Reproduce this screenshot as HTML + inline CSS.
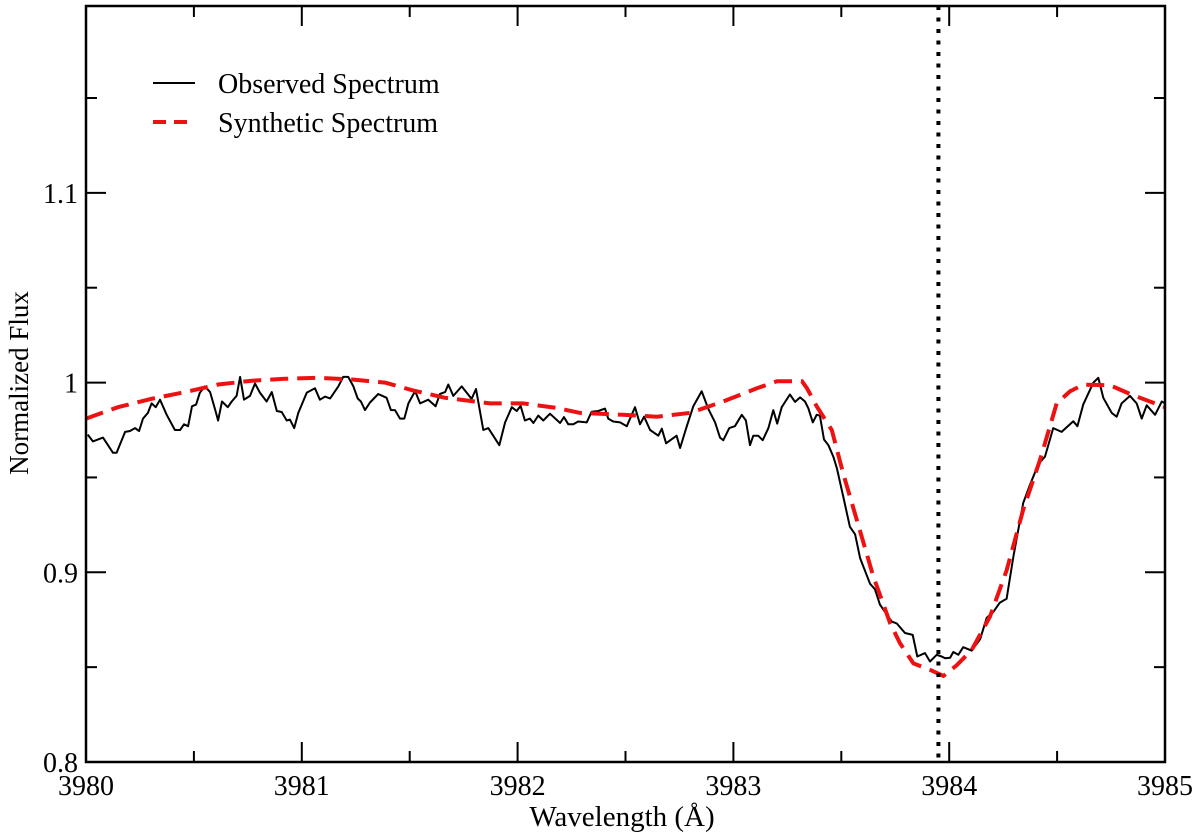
<!DOCTYPE html>
<html><head><meta charset="utf-8"><style>
html,body{margin:0;padding:0;background:#fff;}
svg{display:block;font-family:"Liberation Serif",serif;}
</style></head><body>
<svg id="chart" width="1200" height="838" viewBox="0 0 1200 838" xmlns="http://www.w3.org/2000/svg">
<rect x="0" y="0" width="1200" height="838" fill="#fff"/>
<g id="marks"></g>
<g id="axes"></g>
<g>
<line x1="153" y1="83" x2="195" y2="83" stroke="#000" stroke-width="2"/>
<text x="218" y="93" font-size="28">Observed Spectrum</text>
<line x1="153" y1="122" x2="195" y2="122" stroke="#ee1111" stroke-width="4" stroke-dasharray="13,8"/>
<text x="218" y="132" font-size="28">Synthetic Spectrum</text>
</g>
<text x="622" y="826" font-size="29" text-anchor="middle">Wavelength (Å)</text>
<text transform="translate(28,383) rotate(-90)" font-size="27" text-anchor="middle">Normalized Flux</text>
</svg>
<script>
const lambdaBase = 3980;
const obsOffset = [0.008,0.032,0.079,0.125,0.142,0.181,0.204,0.227,0.246,0.264,0.287,0.304,0.323,0.343,0.374,0.412,0.436,0.454,0.473,0.491,0.510,0.528,0.551,0.575,0.598,0.612,0.630,0.657,0.675,0.698,0.714,0.732,0.760,0.783,0.806,0.837,0.861,0.884,0.907,0.930,0.945,0.965,0.984,1.023,1.061,1.084,1.108,1.131,1.169,1.192,1.215,1.239,1.259,1.274,1.293,1.316,1.354,1.393,1.413,1.432,1.455,1.475,1.494,1.525,1.548,1.586,1.620,1.640,1.664,1.679,1.702,1.741,1.787,1.807,1.841,1.864,1.915,1.942,1.973,1.996,2.014,2.034,2.057,2.073,2.096,2.119,2.150,2.197,2.215,2.235,2.258,2.281,2.320,2.343,2.374,2.405,2.420,2.443,2.475,2.506,2.544,2.567,2.586,2.614,2.652,2.668,2.688,2.706,2.737,2.753,2.784,2.814,2.853,2.884,2.915,2.938,2.953,2.981,3.007,3.039,3.058,3.077,3.092,3.115,3.136,3.162,3.185,3.203,3.224,3.262,3.286,3.309,3.332,3.347,3.368,3.386,3.401,3.420,3.440,3.463,3.479,3.509,3.540,3.564,3.587,3.633,3.656,3.679,3.703,3.734,3.757,3.795,3.831,3.852,3.888,3.911,3.942,3.965,3.981,4.004,4.019,4.042,4.065,4.104,4.143,4.174,4.204,4.235,4.266,4.297,4.343,4.374,4.413,4.444,4.482,4.521,4.575,4.594,4.621,4.668,4.691,4.714,4.753,4.776,4.799,4.838,4.869,4.892,4.915,4.954,4.985,5.000];
const obsFlux = [0.9726,0.969,0.971,0.963,0.963,0.974,0.9745,0.976,0.9745,0.981,0.984,0.989,0.987,0.991,0.983,0.975,0.975,0.978,0.977,0.9875,0.9884,0.9947,0.998,0.995,0.986,0.980,0.990,0.987,0.990,0.993,1.003,0.991,0.993,0.9995,0.9947,0.990,0.995,0.985,0.9845,0.980,0.9805,0.976,0.984,0.9947,0.997,0.991,0.9926,0.9916,0.998,1.003,1.003,0.998,0.9916,0.990,0.9855,0.9895,0.994,0.992,0.9855,0.9855,0.981,0.981,0.989,0.9955,0.989,0.991,0.9875,0.994,0.995,0.999,0.993,0.998,0.9914,0.9966,0.975,0.976,0.967,0.979,0.987,0.985,0.9877,0.980,0.981,0.9787,0.9826,0.980,0.9836,0.9787,0.9818,0.978,0.978,0.9795,0.979,0.9846,0.985,0.9863,0.981,0.9795,0.979,0.977,0.987,0.978,0.982,0.975,0.972,0.9757,0.968,0.9695,0.972,0.9655,0.977,0.9875,0.9954,0.986,0.979,0.971,0.9696,0.976,0.977,0.983,0.980,0.967,0.972,0.972,0.9696,0.976,0.9855,0.9784,0.987,0.9937,0.9898,0.9922,0.990,0.9865,0.979,0.983,0.9826,0.970,0.967,0.961,0.955,0.940,0.924,0.920,0.9075,0.894,0.891,0.883,0.879,0.874,0.873,0.868,0.867,0.8556,0.8574,0.853,0.8565,0.8556,0.8547,0.855,0.858,0.8565,0.8605,0.8587,0.8647,0.876,0.879,0.884,0.886,0.908,0.9365,0.946,0.957,0.961,0.976,0.974,0.9796,0.977,0.9884,1.0,1.0025,0.992,0.984,0.982,0.989,0.993,0.989,0.981,0.988,0.983,0.990,0.989];
const synOffset = [0.0,0.148,0.306,0.459,0.612,0.769,0.922,1.075,1.233,1.386,1.511,1.664,1.872,2.025,2.183,2.289,2.488,2.646,2.799,2.952,3.109,3.202,3.318,3.341,3.386,3.456,3.509,3.571,3.648,3.726,3.772,3.834,3.911,3.973,4.035,4.104,4.189,4.266,4.343,4.421,4.498,4.560,4.621,4.745,4.838,4.930,5.0];
const synFlux = [0.981,0.987,0.9915,0.995,0.999,1.001,1.002,1.0025,1.0016,1.0,0.996,0.992,0.989,0.989,0.9866,0.984,0.983,0.982,0.984,0.990,0.997,1.0007,1.0007,0.997,0.9875,0.975,0.952,0.928,0.898,0.8732,0.8626,0.852,0.8486,0.8454,0.851,0.859,0.8767,0.901,0.933,0.9594,0.989,0.9954,0.9989,0.9986,0.994,0.990,0.987];
const lineCenter = 3983.95;
const xTicksMajor = [3980,3981,3982,3983,3984,3985];
const xTicksMinor = [3980.5,3981.5,3982.5,3983.5,3984.5];
const yTicksMajor = [0.8,0.9,1.0,1.1];
const yTickLabels = ["0.8","0.9","1","1.1"];
const yTicksMinor = [0.85,0.95,1.05,1.15];

const X0=86,X1=1165,Y0=762,Y1=6;
const xMin=3980,xMax=3985,yMin=0.8,yMax=1.1985;
function sx(v){return X0+(v-xMin)/(xMax-xMin)*(X1-X0);}
function sy(v){return Y0-(v-yMin)/(yMax-yMin)*(Y0-Y1);}
const NS="http://www.w3.org/2000/svg";
const marks=document.getElementById('marks');
const axes=document.getElementById('axes');
function mk(tag,attrs,parent){const e=document.createElementNS(NS,tag);for(const k in attrs)e.setAttribute(k,attrs[k]);parent.appendChild(e);return e;}

let d='';
for(let i=0;i<obsOffset.length;i++){d+=(i?'L':'M')+sx(lambdaBase+obsOffset[i]).toFixed(1)+','+sy(obsFlux[i]).toFixed(1);}
const obs=mk('path',{d:d,fill:'none',stroke:'#000','stroke-width':2,'stroke-linejoin':'round'},marks);



d='';
for(let i=0;i<synOffset.length;i++){d+=(i?'L':'M')+sx(lambdaBase+synOffset[i]).toFixed(1)+','+sy(synFlux[i]).toFixed(1);}
const syn=mk('path',{d:d,fill:'none',stroke:'#ee1111','stroke-width':4,'stroke-dasharray':'18,9'},marks);



const vl=mk('line',{x1:sx(lineCenter),x2:sx(lineCenter),y1:Y1,y2:Y0,stroke:'#000','stroke-width':4,'stroke-dasharray':'4,7.5'},marks);



const frame=mk('rect',{x:X0,y:Y1,width:X1-X0,height:Y0-Y1,fill:'none',stroke:'#000','stroke-width':2.5},axes);



xTicksMajor.forEach(v=>{
  const x=sx(v);
  const t1=mk('line',{x1:x,x2:x,y1:Y0,y2:Y0-20,stroke:'#000','stroke-width':2},axes);
  
  
  const t2=mk('line',{x1:x,x2:x,y1:Y1,y2:Y1+20,stroke:'#000','stroke-width':2},axes);
  
  
  const lb=mk('text',{x:x,y:Y0+33,'font-size':28,'text-anchor':'middle'},axes);
  lb.textContent=String(v);
  
  
});
xTicksMinor.forEach(v=>{
  const x=sx(v);
  const t1=mk('line',{x1:x,x2:x,y1:Y0,y2:Y0-11,stroke:'#000','stroke-width':2},axes);
  
  
  const t2=mk('line',{x1:x,x2:x,y1:Y1,y2:Y1+11,stroke:'#000','stroke-width':2},axes);
  
  
});
yTicksMajor.forEach((v,i)=>{
  const y=sy(v);
  const t1=mk('line',{x1:X0,x2:X0+20,y1:y,y2:y,stroke:'#000','stroke-width':2},axes);
  
  
  const t2=mk('line',{x1:X1,x2:X1-20,y1:y,y2:y,stroke:'#000','stroke-width':2},axes);
  
  
  const lb=mk('text',{x:X0-8,y:y+10,'font-size':28,'text-anchor':'end'},axes);
  lb.textContent=yTickLabels[i];
  
  
});
yTicksMinor.forEach(v=>{
  const y=sy(v);
  const t1=mk('line',{x1:X0,x2:X0+11,y1:y,y2:y,stroke:'#000','stroke-width':2},axes);
  
  
  const t2=mk('line',{x1:X1,x2:X1-11,y1:y,y2:y,stroke:'#000','stroke-width':2},axes);
  
  
});
</script>
</body></html>
